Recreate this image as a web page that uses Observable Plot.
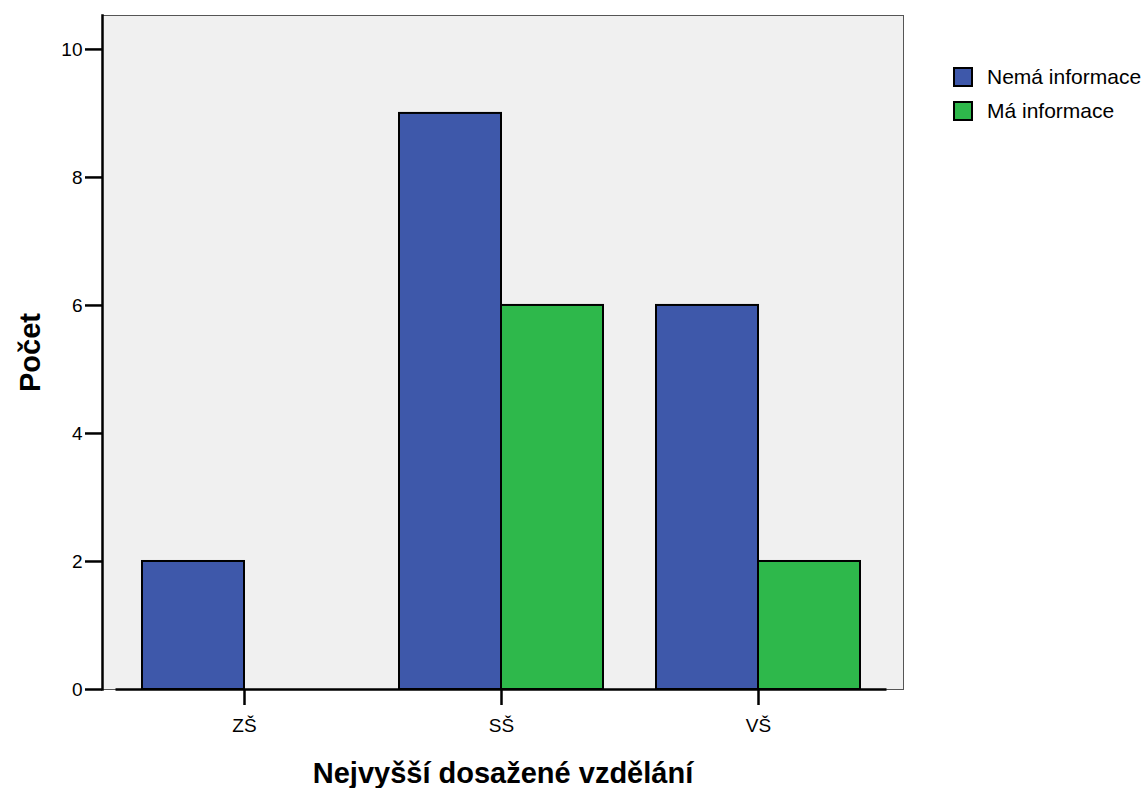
<!DOCTYPE html>
<html>
<head>
<meta charset="utf-8">
<script src="https://cdn.jsdelivr.net/npm/d3@7"></script>
<script src="https://cdn.jsdelivr.net/npm/@observablehq/plot@0.6"></script>
<style>
  html, body { margin: 0; padding: 0; background: #fff; }
  #wrap { position: relative; width: 1146px; height: 788px; font-family: "Liberation Sans", Arial, sans-serif; }
  #legend { position: absolute; left: 953px; top: 67px; font-size: 21px; color: #000; }
  .item { display: flex; align-items: center; height: 20px; margin-bottom: 13.5px; }
  .sw { width: 16px; height: 16px; border: 2px solid #000; margin-right: 14px; box-sizing: content-box; }
</style>
</head>
<body>
<div id="wrap"><div id="legend"></div></div>
<script>
const categories = ["ZŠ", "SŠ", "VŠ"];
const series = ["Nemá informace", "Má informace"];
const nemaInformace = [2, 9, 6];
const maInformace = [0, 6, 2];
const yTicks = [0, 2, 4, 6, 8, 10];
const colors = ["#3e58aa", "#2eb84b"];
const yTitle = "Počet";
const xTitle = "Nejvyšší dosažené vzdělání";

const data = [];
categories.forEach((c, i) => {
  data.push({cat: c, series: series[0], value: nemaInformace[i]});
  data.push({cat: c, series: series[1], value: maInformace[i]});
});
const shown = data.filter(d => d.value > 0);

const half = 102;
const plot = Plot.plot({
  width: 1146,
  height: 788,
  marginLeft: 102,
  marginRight: 243,
  marginTop: 15,
  marginBottom: 99,
  style: {fontFamily: '"Liberation Sans", Arial, sans-serif', background: "transparent", color: "#000"},
  x: {domain: categories, insetLeft: 13.5, insetRight: 16.5, paddingInner: 53 / 257, paddingOuter: 26.5 / 257, axis: null},
  y: {domain: [0, 10.53], axis: null},
  color: {domain: series, range: colors},
  marks: [
    Plot.frame({fill: "#f0f0f0", stroke: "#555", strokeWidth: 1}),
    Plot.barY(shown.filter(d => d.series === series[0]), {x: "cat", y: "value", fill: "series", stroke: "#000", strokeWidth: 2, insetLeft: 0, insetRight: half}),
    Plot.barY(shown.filter(d => d.series === series[1]), {x: "cat", y: "value", fill: "series", stroke: "#000", strokeWidth: 2, insetLeft: half, insetRight: 0}),
    Plot.ruleY([0], {stroke: "#000", strokeWidth: 2.5, insetLeft: 13.5, insetRight: 16.5}),
    Plot.frame({anchor: "left", stroke: "#000", strokeWidth: 2.5}),
    Plot.axisY(yTicks, {tickSize: 17, tickPadding: 3, fontSize: 19, strokeWidth: 2.5, label: null, tickFormat: d3.format("d")}),
    Plot.axisX({tickSize: 16, tickPadding: 13, fontSize: 19, strokeWidth: 2.5, label: null}),
    Plot.text([yTitle], {frameAnchor: "left", dx: -72, rotate: -90, textAnchor: "middle", lineAnchor: "middle", fontSize: 29, fontWeight: "bold"}),
    Plot.text([xTitle], {frameAnchor: "bottom", dy: 84, textAnchor: "middle", lineAnchor: "middle", fontSize: 29, fontWeight: "bold"})
  ]
});
document.getElementById("wrap").prepend(plot);

const legend = document.getElementById("legend");
series.forEach((s, i) => {
  const it = document.createElement("div");
  it.className = "item";
  const sw = document.createElement("span");
  sw.className = "sw";
  sw.style.background = colors[i];
  const t = document.createElement("span");
  t.textContent = s;
  it.appendChild(sw);
  it.appendChild(t);
  legend.appendChild(it);
});
</script>
</body>
</html>
